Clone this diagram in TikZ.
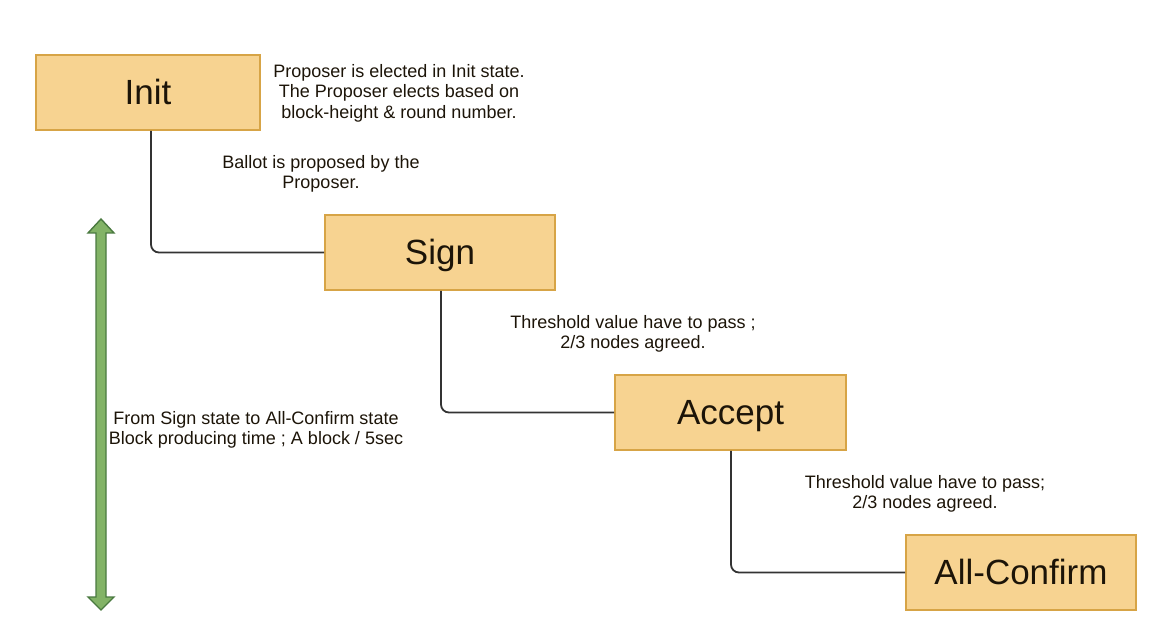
\documentclass[tikz,border=0pt]{standalone}
\usepackage{fontspec}
\setmainfont{Liberation Sans}
\begin{document}
\begin{tikzpicture}[x=1pt,y=-1pt,
  state/.style={draw=boxline,fill=boxfill,line width=1.6pt,minimum width=230pt,minimum height=75pt,inner sep=0pt,font=\fontsize{35}{40}\selectfont,text=txt,text height=25pt,text depth=1pt},
  note/.style={align=center,font=\fontsize{18}{20.5}\selectfont,text=txt,inner sep=0pt},
  conn/.style={draw=linec,line width=1.8pt,rounded corners=8pt}]
\definecolor{boxfill}{HTML}{F7D391}
\definecolor{boxline}{HTML}{D7A446}
\definecolor{linec}{HTML}{333333}
\definecolor{txt}{HTML}{1C1408}
\definecolor{arrfill}{HTML}{82B366}
\definecolor{arrline}{HTML}{4A7A40}
\useasboundingbox (0,0) rectangle (1156,628);
\node[state,minimum width=224pt] (init) at (148,92.5) {Init};
\node[state] (sign) at (440,252.5) {Sign};
\node[state,minimum width=231pt] (accept) at (730.5,412.5) {Accept};
\node[state] (conf) at (1021,572.5) {All-Confirm};
\coordinate (c1) at (151,252.5);
\coordinate (c2) at (441,412.5);
\coordinate (c3) at (731,572.5);
\draw[conn] (init.south -| c1) -- (c1) -- (sign.west);
\draw[conn] (sign.south -| c2) -- (c2) -- (accept.west);
\draw[conn] (accept.south -| c3) -- (c3) -- (conf.west);
\node[note] (n1) at (399,93) {Proposer is elected in Init state.\\The Proposer elects based on\\block-height \& round number.};
\node[note] (n2) at (321,174) {Ballot is proposed by the\\Proposer.};
\node[note] (n3) at (633,334) {Threshold value have to pass ;\\2/3 nodes agreed.};
\node[note] (n4) at (925,494) {Threshold value have to pass;\\2/3 nodes agreed.};
\node[note] (n5) at (256,430) {From Sign state to All-Confirm state\\Block producing time ; A block / 5sec};
\draw[fill=arrfill,draw=arrline,line width=1.4pt,line join=miter]
  (101,219) -- (114,233) -- (106,233) -- (106,597) -- (114,597) -- (101,610)
  -- (88,597) -- (96,597) -- (96,233) -- (88,233) -- cycle;
\end{tikzpicture}
\end{document}
